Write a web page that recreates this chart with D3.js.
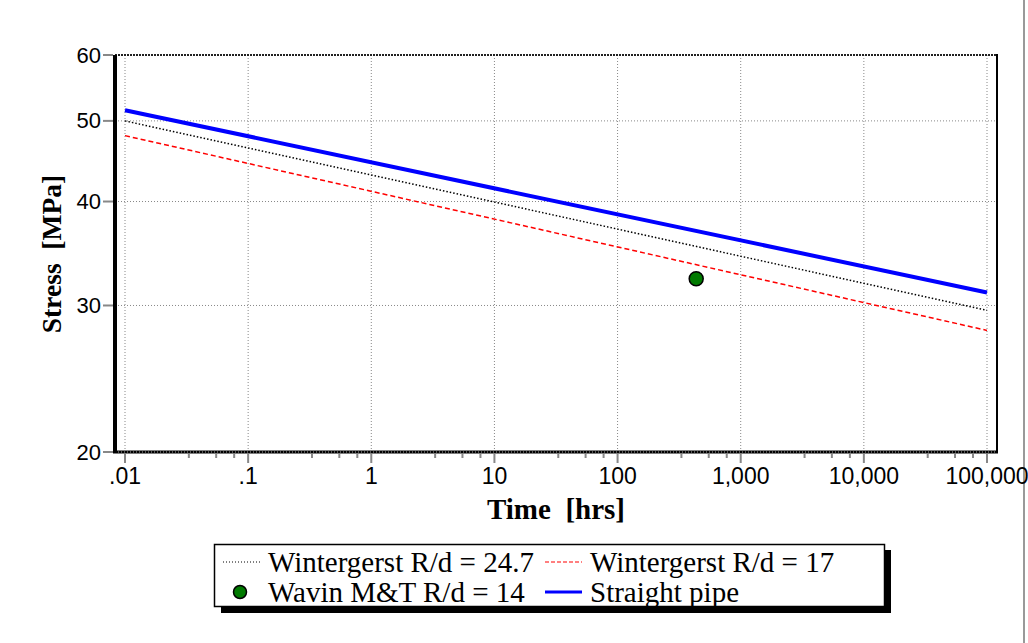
<!DOCTYPE html>
<html>
<head>
<meta charset="utf-8">
<script src="https://cdn.jsdelivr.net/npm/d3@7"></script>
<style>
  body { margin: 0; background: #fff; }
  svg { display: block; }
</style>
</head>
<body>
<svg id="chart" width="1028" height="643"></svg>
<script>
// ---- data ----
const xTicks = [0.01, 0.1, 1, 10, 100, 1000, 10000, 100000];
const xTickLabels = [".01", ".1", "1", "10", "100", "1,000", "10,000", "100,000"];
const minorMults = [3.3, 5.5, 7.7];
const yTicks = [20, 30, 40, 50, 60];

const timeEnds = [0.01, 100000];
const wint247 = [50.0, 29.6];
const wint17 = [48.0, 28.0];
const straight = [51.5, 31.1];
const wavinTime = [435];
const wavinStress = [32.3];

const svg = d3.select("#chart");
const W = 1028, H = 643;

// plot box
const box = {left: 115, right: 997, top: 55, bottom: 452};

const x = d3.scaleLog().domain([0.01, 100000]).range([125, 987]);
const y = d3.scaleLog().domain([20, 60]).range([box.bottom, box.top]);

// right-hand gray edge line
svg.append("line")
  .attr("x1", 1024).attr("x2", 1024).attr("y1", 0).attr("y2", H)
  .attr("stroke", "#999").attr("stroke-width", 2);

// ---- grid ----
const grid = svg.append("g");
grid.selectAll("line.v").data(xTicks).enter().append("line")
  .attr("x1", d => x(d)).attr("x2", d => x(d))
  .attr("y1", box.top).attr("y2", box.bottom)
  .attr("stroke", "#888").attr("stroke-width", 1).attr("stroke-dasharray", "1,2");
grid.selectAll("line.h").data(yTicks.filter(d => d > 20 && d < 60)).enter().append("line")
  .attr("x1", box.left).attr("x2", box.right)
  .attr("y1", d => y(d)).attr("y2", d => y(d))
  .attr("stroke", "#888").attr("stroke-width", 1).attr("stroke-dasharray", "1,2");

// ---- frame ----
// top: dark dotted
svg.append("line").attr("x1", box.left).attr("x2", box.right)
  .attr("y1", box.top).attr("y2", box.top)
  .attr("stroke", "#222").attr("stroke-width", 2).attr("stroke-dasharray", "2,1");
// right: solid black
svg.append("line").attr("x1", box.right).attr("x2", box.right)
  .attr("y1", box.top - 1).attr("y2", box.bottom)
  .attr("stroke", "#000").attr("stroke-width", 2);
// bottom: thick black with dotted light overlay
svg.append("line").attr("x1", box.left - 2).attr("x2", box.right + 1)
  .attr("y1", box.bottom).attr("y2", box.bottom)
  .attr("stroke", "#000").attr("stroke-width", 3);
svg.append("line").attr("x1", box.left).attr("x2", box.right)
  .attr("y1", box.bottom).attr("y2", box.bottom)
  .attr("stroke", "#aaa").attr("stroke-width", 1).attr("stroke-dasharray", "1,2");
// left: thick black
svg.append("line").attr("x1", box.left).attr("x2", box.left)
  .attr("y1", box.top).attr("y2", box.bottom + 1)
  .attr("stroke", "#000").attr("stroke-width", 4);

// ---- y axis ticks and labels ----
const yAx = svg.append("g");
yAx.selectAll("line").data(yTicks).enter().append("line")
  .attr("x1", 103).attr("x2", box.left - 2)
  .attr("y1", d => y(d)).attr("y2", d => y(d))
  .attr("stroke", "#888").attr("stroke-width", 2);
yAx.selectAll("text").data(yTicks).enter().append("text")
  .attr("x", 101).attr("y", d => y(d) + 7.5)
  .attr("text-anchor", "end")
  .attr("font-family", "Liberation Sans, Arial, sans-serif")
  .attr("font-size", 22)
  .attr("fill", "#000")
  .text(d => d);

// ---- x axis ticks and labels ----
const xAx = svg.append("g");
xAx.selectAll("line.major").data(xTicks).enter().append("line")
  .attr("x1", d => x(d)).attr("x2", d => x(d))
  .attr("y1", box.bottom + 2).attr("y2", box.bottom + 11)
  .attr("stroke", "#888").attr("stroke-width", 2);
const minors = [];
xTicks.slice(0, -1).forEach(t => minorMults.forEach(m => minors.push(t * m)));
xAx.selectAll("line.minor").data(minors).enter().append("line")
  .attr("x1", d => x(d)).attr("x2", d => x(d))
  .attr("y1", box.bottom + 2).attr("y2", box.bottom + 6)
  .attr("stroke", "#888").attr("stroke-width", 2);
xAx.selectAll("text").data(xTicks).enter().append("text")
  .attr("x", d => x(d)).attr("y", 484)
  .attr("text-anchor", "middle")
  .attr("font-family", "Liberation Sans, Arial, sans-serif")
  .attr("font-size", 23)
  .attr("fill", "#000")
  .text((d, i) => xTickLabels[i]);

// ---- axis titles ----
svg.append("text")
  .attr("x", 556).attr("y", 519)
  .attr("text-anchor", "middle")
  .attr("font-family", "Liberation Serif, Times New Roman, serif")
  .attr("font-weight", "bold").attr("font-size", 29)
  .attr("xml:space", "preserve")
  .text("Time  [hrs]");
svg.append("text")
  .attr("transform", "translate(61,254) rotate(-90)")
  .attr("text-anchor", "middle")
  .attr("font-family", "Liberation Serif, Times New Roman, serif")
  .attr("font-weight", "bold").attr("font-size", 27.5)
  .attr("xml:space", "preserve")
  .text("Stress  [MPa]");

// ---- series ----
const line = d3.line().x(d => x(d[0])).y(d => y(d[1]));
const plot = svg.append("g");
plot.append("path")
  .datum(timeEnds.map((t, i) => [t, wint17[i]]))
  .attr("d", line).attr("fill", "none")
  .attr("stroke", "#ff0000").attr("stroke-width", 1.5).attr("stroke-dasharray", "5,3");
plot.append("path")
  .datum(timeEnds.map((t, i) => [t, wint247[i]]))
  .attr("d", line).attr("fill", "none")
  .attr("stroke", "#000").attr("stroke-width", 1.5).attr("stroke-dasharray", "1.5,2");
plot.append("path")
  .datum(timeEnds.map((t, i) => [t, straight[i]]))
  .attr("d", line).attr("fill", "none")
  .attr("stroke", "#0000ff").attr("stroke-width", 4);
plot.selectAll("circle").data(wavinTime).enter().append("circle")
  .attr("cx", d => x(d)).attr("cy", (d, i) => y(wavinStress[i]))
  .attr("r", 7)
  .attr("fill", "#007a00").attr("stroke", "#000").attr("stroke-width", 1.5);

// ---- legend ----
const lg = svg.append("g");
lg.append("rect").attr("x", 221).attr("y", 550).attr("width", 670).attr("height", 63).attr("fill", "#000");
lg.append("rect").attr("x", 214.5).attr("y", 544.5).attr("width", 670).attr("height", 62)
  .attr("fill", "#fff").attr("stroke", "#000").attr("stroke-width", 1.5);

const legendItems = [
  {label: "Wintergerst R/d = 24.7", type: "line", color: "#000", width: 1, dash: "1,2", lx: 223, ly: 562},
  {label: "Wintergerst R/d = 17", type: "line", color: "#ff0000", width: 1.2, dash: "4,2", lx: 545, ly: 562},
  {label: "Wavin M&T R/d = 14", type: "dot", color: "#007a00", lx: 223, ly: 592},
  {label: "Straight pipe", type: "line", color: "#0000ff", width: 3, dash: null, lx: 545, ly: 592}
];
legendItems.forEach(it => {
  if (it.type === "line") {
    lg.append("line").attr("x1", it.lx).attr("x2", it.lx + 37)
      .attr("y1", it.ly).attr("y2", it.ly)
      .attr("stroke", it.color).attr("stroke-width", it.width)
      .attr("stroke-dasharray", it.dash);
  } else {
    lg.append("circle").attr("cx", it.lx + 17).attr("cy", it.ly).attr("r", 6.5)
      .attr("fill", it.color).attr("stroke", "#000").attr("stroke-width", 1.5);
  }
  lg.append("text")
    .attr("x", it.lx + 45).attr("y", it.ly + 10)
    .attr("font-family", "Liberation Serif, Times New Roman, serif")
    .attr("font-size", 29)
    .text(it.label);
});
</script>
</body>
</html>
